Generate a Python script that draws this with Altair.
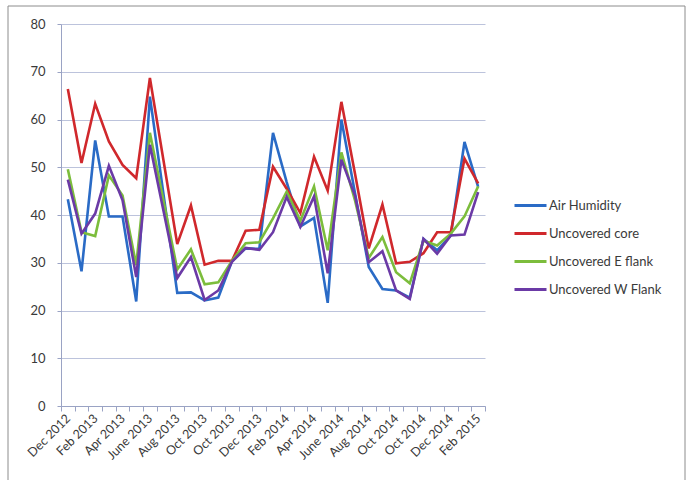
import json
import altair as alt
import pandas as pd

# Category labels shown under every second sampling date
tick_labels = [
    "Dec 2012", "Feb 2013", "Apr 2013", "June 2013", "Aug 2013", "Oct 2013",
    "Oct 2013", "Dec 2013", "Feb 2014", "Apr 2014", "June 2014", "Aug 2014",
    "Oct 2014", "Oct 2014", "Dec 2014", "Feb 2015",
]

series_names = ["Air Humidity", "Uncovered core", "Uncovered E flank", "Uncovered W Flank"]
series_colors = ["#2a6bc6", "#d0282c", "#7cbd3c", "#6b3aa6"]

air_humidity = [43.3, 28.2, 55.6, 39.7, 39.7, 21.9, 64.8, 44.2, 23.7, 23.8, 22.1,
                22.7, 30.3, 33.0, 32.9, 57.2, 46.9, 37.6, 39.4, 21.6, 60.0, 44.5,
                29.1, 24.5, 24.2, 22.7, 35.0, 32.6, 35.7, 55.3, 45.9]
uncovered_core = [66.4, 50.9, 63.3, 55.4, 50.5, 47.7, 68.7, 51.3, 33.9, 42.0, 29.6,
                  30.4, 30.4, 36.7, 36.9, 50.1, 45.5, 40.4, 52.2, 45.1, 63.7, 48.6,
                  33.0, 42.2, 29.9, 30.2, 32.0, 36.4, 36.4, 51.8, 46.6]
uncovered_e_flank = [49.6, 36.4, 35.6, 48.3, 44.1, 29.5, 57.2, 42.9, 28.6, 32.8, 25.5,
                     25.9, 30.4, 34.1, 34.3, 39.3, 44.9, 38.8, 46.0, 32.6, 53.1, 43.0,
                     31.0, 35.4, 28.0, 25.7, 34.6, 33.6, 36.1, 39.7, 46.0]
uncovered_w_flank = [47.4, 36.1, 40.3, 50.3, 43.1, 27.0, 54.7, 40.8, 26.8, 31.2, 22.2,
                     24.2, 30.2, 33.1, 32.7, 36.4, 43.8, 37.5, 43.9, 27.8, 51.6, 44.0,
                     30.1, 32.4, 24.2, 22.4, 35.0, 31.9, 35.7, 35.9, 44.8]

rows = []
for order, (name, values) in enumerate(zip(
        series_names, [air_humidity, uncovered_core, uncovered_e_flank, uncovered_w_flank])):
    for i, v in enumerate(values):
        rows.append({"sample": i, "series": name, "value": v, "order": order})
df = pd.DataFrame(rows)

FONT = "Lato"
AXIS_COLOR = "#9aa3c4"
GRID_COLOR = "#bcc3dc"
TEXT_COLOR = "#3a3a3a"

label_expr = ("datum.value % 2 == 0 ? " + json.dumps(tick_labels)
              + "[floor(datum.value / 2)] : ''")

lines = alt.Chart(df).mark_line(strokeWidth=2.6).encode(
    x=alt.X(
        "sample:O",
        scale=alt.Scale(type="band", paddingInner=0, paddingOuter=0),
        axis=alt.Axis(
            title=None, labelExpr=label_expr, labelAngle=-45, labelAlign="right",
            labelBaseline="middle", tickBand="extent", tickSize=5, labelPadding=5,
            domainColor=AXIS_COLOR, tickColor=AXIS_COLOR, labelFont=FONT,
            labelFontSize=12.5, labelColor=TEXT_COLOR, grid=False, labelOverlap=False,
        ),
    ),
    y=alt.Y(
        "value:Q",
        scale=alt.Scale(domain=[0, 80], nice=False),
        axis=alt.Axis(
            title=None, values=list(range(0, 81, 10)), tickSize=4, labelPadding=12,
            domainColor=AXIS_COLOR, tickColor=AXIS_COLOR, gridColor=GRID_COLOR,
            labelFont=FONT, labelFontSize=13, labelColor=TEXT_COLOR,
        ),
    ),
    color=alt.Color(
        "series:N",
        scale=alt.Scale(domain=series_names, range=series_colors),
        legend=alt.Legend(
            title=None, orient="none", legendX=452, legendY=164,
            symbolType="stroke", symbolSize=1024, symbolStrokeWidth=3,
            labelFont=FONT, labelFontSize=13, labelColor=TEXT_COLOR,
            labelOffset=1, rowPadding=3,
        ),
    ),
    order=alt.Order("order:Q"),
)

# Outer chart border
frame = alt.Chart(alt.Data(values=[{}])).mark_rect(
    fill=None, stroke="#8c8c8c", strokeWidth=1
).encode(
    x=alt.value(-53), x2=alt.value(624), y=alt.value(-18), y2=alt.value(460)
)

chart = alt.layer(frame, lines).properties(
    width=424, height=382, autosize="none",
    padding={"left": 61, "top": 24, "right": 206, "bottom": 74},
    background="white",
).configure_view(stroke=None)

chart.save("out.html", embed_options={"renderer": "svg", "actions": False})
